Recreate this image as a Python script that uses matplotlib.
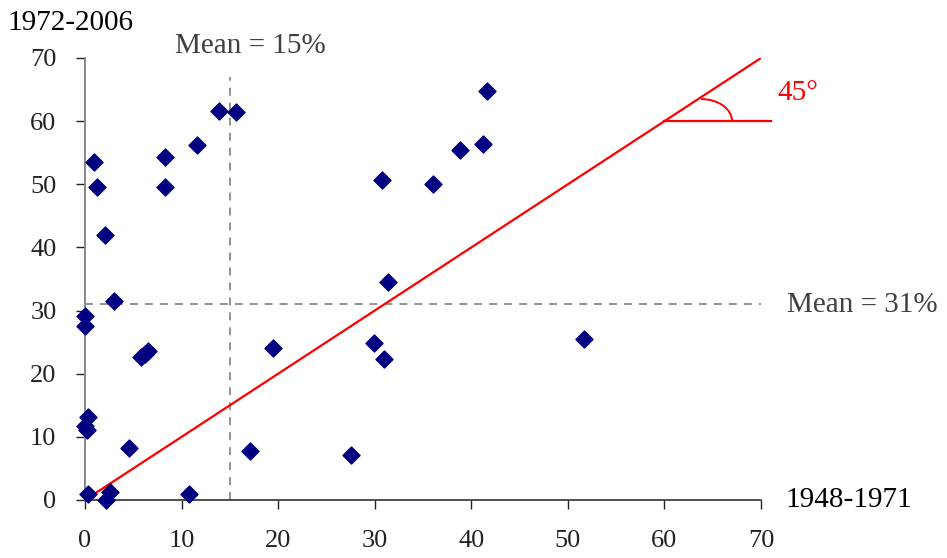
import matplotlib.pyplot as plt
from matplotlib.patches import Arc

# x = 1948-1971, y = 1972-2006 (percent)
x_early = [0.97, 1.2, 2.1, 8.25, 8.25, 11.6, 13.9, 15.6,
           41.6, 41.2, 38.8, 36.0, 30.75,
           3.0, 0.05, 0.05, 5.8, 6.2, 6.5, 19.5,
           0.3, 0.0, 0.25, 4.6, 0.27, 2.2, 2.6, 10.8, 17.1,
           31.4, 29.9, 31.0, 27.5, 51.7]
y_late = [53.5, 49.6, 41.9, 54.3, 49.6, 56.2, 61.6, 61.5,
          64.7, 56.4, 55.4, 50.0, 50.6,
          31.5, 29.2, 27.6, 22.7, 23.1, 23.6, 24.0,
          13.1, 11.7, 11.1, 8.2, 0.9, 0.0, 1.2, 0.9, 7.8,
          34.5, 24.8, 22.3, 7.1, 25.5]

mean_x = 15
mean_y = 31
diag_x = [1, 70]
diag_y = [1, 70]
ticks = [0, 10, 20, 30, 40, 50, 60, 70]

plt.rcParams['font.family'] = ['Liberation Serif', 'DejaVu Serif']

fig = plt.figure(figsize=(9.47, 5.58), dpi=100)
ax = fig.add_axes([85 / 947, 58 / 558, 676 / 947, 442 / 558])

# mean lines
ax.plot([mean_x, mean_x], [0, 67], color='#939393', lw=1.4, dashes=(4.1, 3.6))
ax.plot([0, 70], [mean_y, mean_y], color='#939393', lw=1.4, dashes=(4.1, 3.6))

# 45 degree line and angle mark
ax.plot(diag_x, diag_y, color='red', lw=1.6)
ax.plot([60, 71], [60, 60], color='red', lw=1.6, clip_on=False)
ax.add_patch(Arc((63.8, 60), 6.4, 7.0, theta1=0, theta2=90,
                 color='red', lw=1.4))

ax.scatter(x_early, y_late, marker='D', s=75, color='#000080', zorder=3,
           clip_on=False)

ax.set_xlim(0, 70)
ax.set_ylim(0, 70)
ax.set_xticks(ticks)
ax.set_yticks(ticks)

for s in ['top', 'right']:
    ax.spines[s].set_visible(False)
ax.spines['left'].set_color('#808080')
ax.spines['bottom'].set_color('#404040')
ax.spines['left'].set_linewidth(1.3)
ax.spines['bottom'].set_linewidth(1.3)

ax.tick_params(axis='both', direction='out', length=6.5, width=1,
               labelsize=19, colors='#222222')
ax.tick_params(axis='x', pad=15)
ax.tick_params(axis='y', pad=14)

txt = dict(fontsize=21, va='baseline', ha='left', clip_on=False)
ax.text(-8.0, 74.4, '1972-2006', color='black', **txt)
ax.text(72.5, -1.1, '1948-1971', color='black', **txt)
ax.text(9.3, 70.8, 'Mean = 15%', color='#404040', **txt)
ax.text(72.7, 29.8, 'Mean = 31%', color='#404040', **txt)
ax.text(71.7, 63.4, '45°', color='red', **txt)

fig.savefig('out.png', dpi=100)
